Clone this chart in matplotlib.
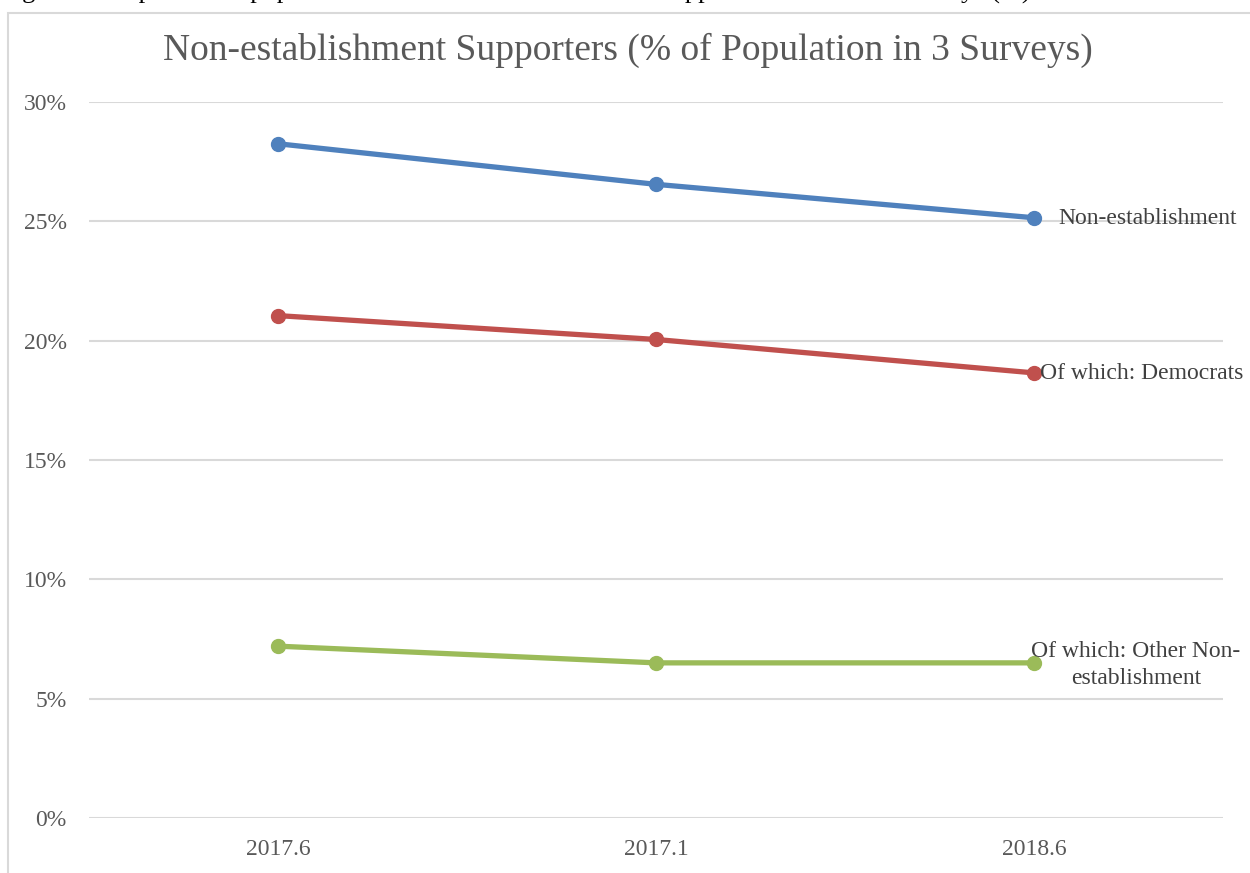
import matplotlib
matplotlib.use("Agg")
import matplotlib.pyplot as plt
from matplotlib.patches import Rectangle

categories = ["2017.6", "2017.1", "2018.6"]
non_establishment = [28.25, 26.55, 25.15]
democrats = [21.05, 20.05, 18.65]
other_non_est = [7.2, 6.5, 6.5]
series_names = ["Non-establishment", "Of which: Democrats", "Of which: Other Non-\nestablishment"]
colors = ["#4F81BD", "#C0504D", "#9BBB59"]
yticks = [0, 5, 10, 15, 20, 25, 30]
ytick_labels = ["0%", "5%", "10%", "15%", "20%", "25%", "30%"]

plt.rcParams['font.family'] = ['Liberation Serif', 'DejaVu Serif']

fig = plt.figure(figsize=(12.5, 8.73), dpi=100)
# chart border (cut by the image edge)
fig.patches.append(Rectangle((8/1250, -0.1), 1.2, (873-13)/873 + 0.1, transform=fig.transFigure,
                             fill=False, edgecolor="#D9D9D9", linewidth=1.5))
# cropped caption above the chart (only its descenders show, as in the reference)
fig.text(0.0, 1 + 1/873, "Figure 3  Proportion of population who are non-establishment supporters in the three surveys (%)",
         fontsize=19, color="black", va="baseline", ha="left")

ax = fig.add_axes([89/1250, (873-818)/873, (1223-89)/1250, (818-102)/873])
x = list(range(len(categories)))
for vals, c in zip([non_establishment, democrats, other_non_est], colors):
    ax.plot(x, vals, color=c, linewidth=3.8, marker="o", markersize=10, solid_capstyle="round", zorder=3)

ax.set_xlim(-0.5, 2.5)
ax.set_ylim(0, 30)
ax.set_yticks(yticks)
ax.set_yticklabels(ytick_labels)
ax.set_xticks(x)
ax.set_xticklabels(categories)
ax.yaxis.grid(True, color="#D9D9D9", linewidth=1.5)
ax.set_axisbelow(True)
for s in ax.spines.values():
    s.set_visible(False)
ax.tick_params(length=0, labelsize=17, labelcolor="#595959")
ax.tick_params(axis="y", pad=16)
ax.tick_params(axis="x", pad=15)

# data labels at last point
ax.annotate(series_names[0], (2, non_establishment[-1]), xytext=(24, -1), textcoords="offset pixels",
            ha="left", va="center", fontsize=17, color="#404040")
ax.annotate(series_names[1], (2, democrats[-1]), xytext=(6, -1), textcoords="offset pixels",
            ha="left", va="center", fontsize=17, color="#404040")
ax.annotate(series_names[2], (2, other_non_est[-1]), xytext=(102, -2), textcoords="offset pixels",
            ha="center", va="center", fontsize=17, color="#404040", linespacing=1.35)

fig.text(628/1250, 1 - 50/873, "Non-establishment Supporters (% of Population in 3 Surveys)",
         ha="center", va="center", fontsize=27, color="#595959")

fig.savefig("out.png", dpi=100)
